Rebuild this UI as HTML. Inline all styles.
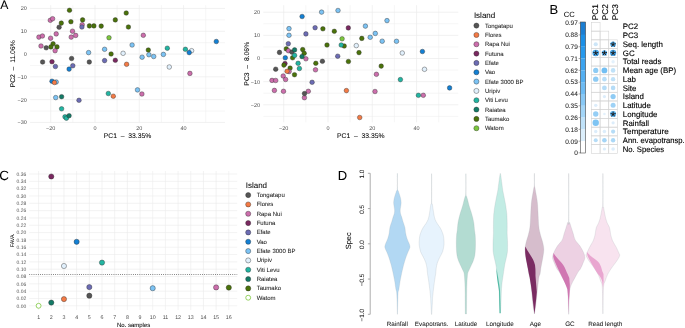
<!DOCTYPE html>
<html><head><meta charset="utf-8"><style>
html,body{margin:0;padding:0;background:#fff;}
body{width:685px;height:328px;overflow:hidden;font-family:"Liberation Sans", sans-serif;}
svg{display:block;will-change:transform;}
text{-webkit-font-smoothing:antialiased;text-rendering:geometricPrecision;}
</style></head><body>
<svg width="685" height="328" viewBox="0 0 685 328" font-family='"Liberation Sans", sans-serif'>
<rect width="685" height="328" fill="#fff"/>
<text transform="translate(0.30 8.80)" font-size="12.20" text-anchor="start" fill="#000" stroke="#000" stroke-width="0.05">A</text>
<text transform="translate(549.40 13.80)" font-size="13.00" text-anchor="start" fill="#000" stroke="#000" stroke-width="0.05">B</text>
<text transform="translate(-0.70 179.90)" font-size="13.40" text-anchor="start" fill="#000" stroke="#000" stroke-width="0.05">C</text>
<text transform="translate(337.80 179.60)" font-size="13.00" text-anchor="start" fill="#000" stroke="#000" stroke-width="0.05">D</text>
<line x1="30.10" y1="19.85" x2="225.00" y2="19.85" stroke="#efefef" stroke-width="0.55"/>
<line x1="30.10" y1="42.65" x2="225.00" y2="42.65" stroke="#efefef" stroke-width="0.55"/>
<line x1="30.10" y1="65.45" x2="225.00" y2="65.45" stroke="#efefef" stroke-width="0.55"/>
<line x1="30.10" y1="88.25" x2="225.00" y2="88.25" stroke="#efefef" stroke-width="0.55"/>
<line x1="30.10" y1="111.05" x2="225.00" y2="111.05" stroke="#efefef" stroke-width="0.55"/>
<line x1="72.86" y1="5.20" x2="72.86" y2="122.50" stroke="#efefef" stroke-width="0.55"/>
<line x1="117.14" y1="5.20" x2="117.14" y2="122.50" stroke="#efefef" stroke-width="0.55"/>
<line x1="161.42" y1="5.20" x2="161.42" y2="122.50" stroke="#efefef" stroke-width="0.55"/>
<line x1="205.70" y1="5.20" x2="205.70" y2="122.50" stroke="#efefef" stroke-width="0.55"/>
<line x1="30.10" y1="8.45" x2="225.00" y2="8.45" stroke="#ebebeb" stroke-width="0.7"/>
<line x1="30.10" y1="31.25" x2="225.00" y2="31.25" stroke="#ebebeb" stroke-width="0.7"/>
<line x1="30.10" y1="54.05" x2="225.00" y2="54.05" stroke="#ebebeb" stroke-width="0.7"/>
<line x1="30.10" y1="76.85" x2="225.00" y2="76.85" stroke="#ebebeb" stroke-width="0.7"/>
<line x1="30.10" y1="99.65" x2="225.00" y2="99.65" stroke="#ebebeb" stroke-width="0.7"/>
<line x1="30.10" y1="122.45" x2="225.00" y2="122.45" stroke="#ebebeb" stroke-width="0.7"/>
<line x1="50.72" y1="5.20" x2="50.72" y2="122.50" stroke="#ebebeb" stroke-width="0.7"/>
<line x1="95.00" y1="5.20" x2="95.00" y2="122.50" stroke="#ebebeb" stroke-width="0.7"/>
<line x1="139.28" y1="5.20" x2="139.28" y2="122.50" stroke="#ebebeb" stroke-width="0.7"/>
<line x1="183.56" y1="5.20" x2="183.56" y2="122.50" stroke="#ebebeb" stroke-width="0.7"/>
<text transform="translate(26.90 10.40)" font-size="5.50" text-anchor="end" fill="#4d4d4d">20</text>
<text transform="translate(26.90 33.20)" font-size="5.50" text-anchor="end" fill="#4d4d4d">10</text>
<text transform="translate(26.90 56.00)" font-size="5.50" text-anchor="end" fill="#4d4d4d">0</text>
<text transform="translate(26.90 78.80)" font-size="5.50" text-anchor="end" fill="#4d4d4d">&#8722;10</text>
<text transform="translate(26.90 101.60)" font-size="5.50" text-anchor="end" fill="#4d4d4d">&#8722;20</text>
<text transform="translate(26.90 124.40)" font-size="5.50" text-anchor="end" fill="#4d4d4d">&#8722;30</text>
<text transform="translate(50.72 130.20)" font-size="5.50" text-anchor="middle" fill="#4d4d4d">&#8722;20</text>
<text transform="translate(95.00 130.20)" font-size="5.50" text-anchor="middle" fill="#4d4d4d">0</text>
<text transform="translate(139.28 130.20)" font-size="5.50" text-anchor="middle" fill="#4d4d4d">20</text>
<text transform="translate(183.56 130.20)" font-size="5.50" text-anchor="middle" fill="#4d4d4d">40</text>
<text transform="translate(127.55 137.80)" font-size="6.80" text-anchor="middle" fill="#000" stroke="#000" stroke-width="0.05">PC1&#160;&#160;&#8211;&#160;&#160;33.35%</text>
<text transform="translate(15.40 63.85) rotate(-90)" font-size="6.80" text-anchor="middle" fill="#000" stroke="#000" stroke-width="0.05">PC2&#160;&#160;&#8211;&#160;&#160;11.06%</text>
<circle cx="69.50" cy="10.30" r="2.3" fill="#4a720a" stroke="#2b2b2b" stroke-width="0.4"/>
<circle cx="61.30" cy="23.10" r="2.3" fill="#4a720a" stroke="#2b2b2b" stroke-width="0.4"/>
<circle cx="70.90" cy="21.70" r="2.3" fill="#4a720a" stroke="#2b2b2b" stroke-width="0.4"/>
<circle cx="82.60" cy="19.90" r="2.3" fill="#4a720a" stroke="#2b2b2b" stroke-width="0.4"/>
<circle cx="89.40" cy="25.90" r="2.3" fill="#4a720a" stroke="#2b2b2b" stroke-width="0.4"/>
<circle cx="93.90" cy="25.90" r="2.3" fill="#4a720a" stroke="#2b2b2b" stroke-width="0.4"/>
<circle cx="101.20" cy="26.10" r="2.3" fill="#4a720a" stroke="#2b2b2b" stroke-width="0.4"/>
<circle cx="115.30" cy="19.90" r="2.3" fill="#4a720a" stroke="#2b2b2b" stroke-width="0.4"/>
<circle cx="126.20" cy="13.00" r="2.3" fill="#4a720a" stroke="#2b2b2b" stroke-width="0.4"/>
<circle cx="128.40" cy="27.00" r="2.3" fill="#4a720a" stroke="#2b2b2b" stroke-width="0.4"/>
<circle cx="53.10" cy="43.80" r="2.3" fill="#4a720a" stroke="#2b2b2b" stroke-width="0.4"/>
<circle cx="50.90" cy="46.90" r="2.3" fill="#4a720a" stroke="#2b2b2b" stroke-width="0.4"/>
<circle cx="57.00" cy="46.90" r="2.3" fill="#4a720a" stroke="#2b2b2b" stroke-width="0.4"/>
<circle cx="111.10" cy="54.00" r="2.3" fill="#4a720a" stroke="#2b2b2b" stroke-width="0.4"/>
<circle cx="148.30" cy="50.00" r="2.3" fill="#4a720a" stroke="#2b2b2b" stroke-width="0.4"/>
<circle cx="50.30" cy="20.30" r="2.3" fill="#cc6eac" stroke="#2b2b2b" stroke-width="0.4"/>
<circle cx="52.60" cy="18.70" r="2.3" fill="#cc6eac" stroke="#2b2b2b" stroke-width="0.4"/>
<circle cx="82.20" cy="24.70" r="2.3" fill="#cc6eac" stroke="#2b2b2b" stroke-width="0.4"/>
<circle cx="56.20" cy="33.90" r="2.3" fill="#cc6eac" stroke="#2b2b2b" stroke-width="0.4"/>
<circle cx="72.50" cy="31.20" r="2.3" fill="#cc6eac" stroke="#2b2b2b" stroke-width="0.4"/>
<circle cx="75.70" cy="35.40" r="2.3" fill="#cc6eac" stroke="#2b2b2b" stroke-width="0.4"/>
<circle cx="71.20" cy="37.10" r="2.3" fill="#cc6eac" stroke="#2b2b2b" stroke-width="0.4"/>
<circle cx="50.60" cy="38.20" r="2.3" fill="#cc6eac" stroke="#2b2b2b" stroke-width="0.4"/>
<circle cx="38.90" cy="37.10" r="2.3" fill="#cc6eac" stroke="#2b2b2b" stroke-width="0.4"/>
<circle cx="42.40" cy="36.00" r="2.3" fill="#cc6eac" stroke="#2b2b2b" stroke-width="0.4"/>
<circle cx="41.00" cy="46.00" r="2.3" fill="#cc6eac" stroke="#2b2b2b" stroke-width="0.4"/>
<circle cx="55.10" cy="50.70" r="2.3" fill="#cc6eac" stroke="#2b2b2b" stroke-width="0.4"/>
<circle cx="143.30" cy="35.30" r="2.3" fill="#cc6eac" stroke="#2b2b2b" stroke-width="0.4"/>
<circle cx="141.90" cy="94.00" r="2.3" fill="#cc6eac" stroke="#2b2b2b" stroke-width="0.4"/>
<circle cx="189.90" cy="73.40" r="2.3" fill="#cc6eac" stroke="#2b2b2b" stroke-width="0.4"/>
<circle cx="59.10" cy="27.20" r="2.3" fill="#555555" stroke="#2b2b2b" stroke-width="0.4"/>
<circle cx="46.20" cy="47.80" r="2.3" fill="#555555" stroke="#2b2b2b" stroke-width="0.4"/>
<circle cx="71.60" cy="58.50" r="2.3" fill="#555555" stroke="#2b2b2b" stroke-width="0.4"/>
<circle cx="42.60" cy="62.00" r="2.3" fill="#555555" stroke="#2b2b2b" stroke-width="0.4"/>
<circle cx="89.30" cy="62.00" r="2.3" fill="#555555" stroke="#2b2b2b" stroke-width="0.4"/>
<circle cx="81.90" cy="27.00" r="2.3" fill="#6c6cb4" stroke="#2b2b2b" stroke-width="0.4"/>
<circle cx="55.40" cy="66.50" r="2.3" fill="#6c6cb4" stroke="#2b2b2b" stroke-width="0.4"/>
<circle cx="72.80" cy="65.70" r="2.3" fill="#6c6cb4" stroke="#2b2b2b" stroke-width="0.4"/>
<circle cx="79.00" cy="100.30" r="2.3" fill="#6c6cb4" stroke="#2b2b2b" stroke-width="0.4"/>
<circle cx="104.60" cy="60.60" r="2.3" fill="#6c6cb4" stroke="#2b2b2b" stroke-width="0.4"/>
<circle cx="52.00" cy="61.70" r="2.3" fill="#7a2860" stroke="#2b2b2b" stroke-width="0.4"/>
<circle cx="115.30" cy="60.30" r="2.3" fill="#7a2860" stroke="#2b2b2b" stroke-width="0.4"/>
<circle cx="123.10" cy="53.30" r="2.3" fill="#e1f0fc" stroke="#2b2b2b" stroke-width="0.4"/>
<circle cx="191.60" cy="50.70" r="2.3" fill="#e1f0fc" stroke="#2b2b2b" stroke-width="0.4"/>
<circle cx="169.30" cy="67.00" r="2.3" fill="#e1f0fc" stroke="#2b2b2b" stroke-width="0.4"/>
<circle cx="69.10" cy="69.10" r="2.3" fill="#1380d4" stroke="#2b2b2b" stroke-width="0.4"/>
<circle cx="52.00" cy="81.20" r="2.3" fill="#1380d4" stroke="#2b2b2b" stroke-width="0.4"/>
<circle cx="216.30" cy="41.50" r="2.3" fill="#1380d4" stroke="#2b2b2b" stroke-width="0.4"/>
<circle cx="189.20" cy="52.60" r="2.3" fill="#1380d4" stroke="#2b2b2b" stroke-width="0.4"/>
<circle cx="88.60" cy="52.60" r="2.3" fill="#7cc3f4" stroke="#2b2b2b" stroke-width="0.4"/>
<circle cx="56.20" cy="82.00" r="2.3" fill="#7cc3f4" stroke="#2b2b2b" stroke-width="0.4"/>
<circle cx="55.70" cy="97.60" r="2.3" fill="#7cc3f4" stroke="#2b2b2b" stroke-width="0.4"/>
<circle cx="132.10" cy="45.00" r="2.3" fill="#7cc3f4" stroke="#2b2b2b" stroke-width="0.4"/>
<circle cx="104.60" cy="49.30" r="2.3" fill="#7cc3f4" stroke="#2b2b2b" stroke-width="0.4"/>
<circle cx="142.10" cy="57.20" r="2.3" fill="#7cc3f4" stroke="#2b2b2b" stroke-width="0.4"/>
<circle cx="148.90" cy="54.70" r="2.3" fill="#7cc3f4" stroke="#2b2b2b" stroke-width="0.4"/>
<circle cx="153.70" cy="56.50" r="2.3" fill="#7cc3f4" stroke="#2b2b2b" stroke-width="0.4"/>
<circle cx="163.40" cy="54.40" r="2.3" fill="#7cc3f4" stroke="#2b2b2b" stroke-width="0.4"/>
<circle cx="137.50" cy="89.90" r="2.3" fill="#7cc3f4" stroke="#2b2b2b" stroke-width="0.4"/>
<circle cx="54.40" cy="82.50" r="2.3" fill="#f37a45" stroke="#2b2b2b" stroke-width="0.4"/>
<circle cx="126.60" cy="64.30" r="2.3" fill="#f37a45" stroke="#2b2b2b" stroke-width="0.4"/>
<circle cx="113.30" cy="96.20" r="2.3" fill="#f37a45" stroke="#2b2b2b" stroke-width="0.4"/>
<circle cx="61.60" cy="108.80" r="2.3" fill="#22b5a2" stroke="#2b2b2b" stroke-width="0.4"/>
<circle cx="65.00" cy="116.80" r="2.3" fill="#22b5a2" stroke="#2b2b2b" stroke-width="0.4"/>
<circle cx="66.40" cy="118.20" r="2.3" fill="#22b5a2" stroke="#2b2b2b" stroke-width="0.4"/>
<circle cx="108.30" cy="93.50" r="2.3" fill="#22b5a2" stroke="#2b2b2b" stroke-width="0.4"/>
<circle cx="167.30" cy="48.20" r="2.3" fill="#22b5a2" stroke="#2b2b2b" stroke-width="0.4"/>
<circle cx="185.40" cy="49.30" r="2.3" fill="#22b5a2" stroke="#2b2b2b" stroke-width="0.4"/>
<circle cx="61.60" cy="96.70" r="2.3" fill="#137a66" stroke="#2b2b2b" stroke-width="0.4"/>
<circle cx="69.10" cy="115.70" r="2.3" fill="#137a66" stroke="#2b2b2b" stroke-width="0.4"/>
<circle cx="109.00" cy="37.70" r="2.3" fill="#7cc63e" stroke="#2b2b2b" stroke-width="0.4"/>
<line x1="263.30" y1="23.77" x2="458.30" y2="23.77" stroke="#efefef" stroke-width="0.55"/>
<line x1="263.30" y1="46.92" x2="458.30" y2="46.92" stroke="#efefef" stroke-width="0.55"/>
<line x1="263.30" y1="70.08" x2="458.30" y2="70.08" stroke="#efefef" stroke-width="0.55"/>
<line x1="263.30" y1="93.23" x2="458.30" y2="93.23" stroke="#efefef" stroke-width="0.55"/>
<line x1="263.30" y1="116.39" x2="458.30" y2="116.39" stroke="#efefef" stroke-width="0.55"/>
<line x1="305.86" y1="5.20" x2="305.86" y2="122.30" stroke="#efefef" stroke-width="0.55"/>
<line x1="350.14" y1="5.20" x2="350.14" y2="122.30" stroke="#efefef" stroke-width="0.55"/>
<line x1="394.42" y1="5.20" x2="394.42" y2="122.30" stroke="#efefef" stroke-width="0.55"/>
<line x1="438.70" y1="5.20" x2="438.70" y2="122.30" stroke="#efefef" stroke-width="0.55"/>
<line x1="263.30" y1="12.19" x2="458.30" y2="12.19" stroke="#ebebeb" stroke-width="0.7"/>
<line x1="263.30" y1="35.34" x2="458.30" y2="35.34" stroke="#ebebeb" stroke-width="0.7"/>
<line x1="263.30" y1="58.50" x2="458.30" y2="58.50" stroke="#ebebeb" stroke-width="0.7"/>
<line x1="263.30" y1="81.66" x2="458.30" y2="81.66" stroke="#ebebeb" stroke-width="0.7"/>
<line x1="263.30" y1="104.81" x2="458.30" y2="104.81" stroke="#ebebeb" stroke-width="0.7"/>
<line x1="283.72" y1="5.20" x2="283.72" y2="122.30" stroke="#ebebeb" stroke-width="0.7"/>
<line x1="328.00" y1="5.20" x2="328.00" y2="122.30" stroke="#ebebeb" stroke-width="0.7"/>
<line x1="372.28" y1="5.20" x2="372.28" y2="122.30" stroke="#ebebeb" stroke-width="0.7"/>
<line x1="416.56" y1="5.20" x2="416.56" y2="122.30" stroke="#ebebeb" stroke-width="0.7"/>
<text transform="translate(260.10 14.14)" font-size="5.50" text-anchor="end" fill="#4d4d4d">20</text>
<text transform="translate(260.10 37.29)" font-size="5.50" text-anchor="end" fill="#4d4d4d">10</text>
<text transform="translate(260.10 60.45)" font-size="5.50" text-anchor="end" fill="#4d4d4d">0</text>
<text transform="translate(260.10 83.61)" font-size="5.50" text-anchor="end" fill="#4d4d4d">&#8722;10</text>
<text transform="translate(260.10 106.76)" font-size="5.50" text-anchor="end" fill="#4d4d4d">&#8722;20</text>
<text transform="translate(283.72 130.20)" font-size="5.50" text-anchor="middle" fill="#4d4d4d">&#8722;20</text>
<text transform="translate(328.00 130.20)" font-size="5.50" text-anchor="middle" fill="#4d4d4d">0</text>
<text transform="translate(372.28 130.20)" font-size="5.50" text-anchor="middle" fill="#4d4d4d">20</text>
<text transform="translate(416.56 130.20)" font-size="5.50" text-anchor="middle" fill="#4d4d4d">40</text>
<text transform="translate(360.80 137.80)" font-size="6.80" text-anchor="middle" fill="#000" stroke="#000" stroke-width="0.05">PC1&#160;&#160;&#8211;&#160;&#160;33.35%</text>
<text transform="translate(248.50 63.75) rotate(-90)" font-size="6.80" text-anchor="middle" fill="#000" stroke="#000" stroke-width="0.05">PC3&#160;&#160;&#8211;&#160;&#160;8.06%</text>
<circle cx="285.00" cy="63.60" r="2.3" fill="#7a2860" stroke="#2b2b2b" stroke-width="0.4"/>
<circle cx="348.30" cy="27.90" r="2.3" fill="#7a2860" stroke="#2b2b2b" stroke-width="0.4"/>
<circle cx="286.30" cy="48.90" r="2.3" fill="#4a720a" stroke="#2b2b2b" stroke-width="0.4"/>
<circle cx="292.60" cy="57.80" r="2.3" fill="#4a720a" stroke="#2b2b2b" stroke-width="0.4"/>
<circle cx="302.70" cy="49.60" r="2.3" fill="#4a720a" stroke="#2b2b2b" stroke-width="0.4"/>
<circle cx="304.20" cy="53.30" r="2.3" fill="#4a720a" stroke="#2b2b2b" stroke-width="0.4"/>
<circle cx="283.90" cy="65.10" r="2.3" fill="#4a720a" stroke="#2b2b2b" stroke-width="0.4"/>
<circle cx="290.10" cy="68.10" r="2.3" fill="#4a720a" stroke="#2b2b2b" stroke-width="0.4"/>
<circle cx="294.50" cy="74.70" r="2.3" fill="#4a720a" stroke="#2b2b2b" stroke-width="0.4"/>
<circle cx="322.90" cy="28.80" r="2.3" fill="#4a720a" stroke="#2b2b2b" stroke-width="0.4"/>
<circle cx="334.30" cy="31.30" r="2.3" fill="#4a720a" stroke="#2b2b2b" stroke-width="0.4"/>
<circle cx="361.80" cy="38.40" r="2.3" fill="#4a720a" stroke="#2b2b2b" stroke-width="0.4"/>
<circle cx="327.00" cy="45.00" r="2.3" fill="#4a720a" stroke="#2b2b2b" stroke-width="0.4"/>
<circle cx="344.20" cy="46.00" r="2.3" fill="#4a720a" stroke="#2b2b2b" stroke-width="0.4"/>
<circle cx="359.00" cy="52.60" r="2.3" fill="#4a720a" stroke="#2b2b2b" stroke-width="0.4"/>
<circle cx="315.80" cy="63.30" r="2.3" fill="#4a720a" stroke="#2b2b2b" stroke-width="0.4"/>
<circle cx="348.40" cy="61.50" r="2.3" fill="#4a720a" stroke="#2b2b2b" stroke-width="0.4"/>
<circle cx="381.20" cy="66.10" r="2.3" fill="#4a720a" stroke="#2b2b2b" stroke-width="0.4"/>
<circle cx="288.40" cy="50.70" r="2.3" fill="#cc6eac" stroke="#2b2b2b" stroke-width="0.4"/>
<circle cx="305.90" cy="58.80" r="2.3" fill="#cc6eac" stroke="#2b2b2b" stroke-width="0.4"/>
<circle cx="289.10" cy="71.60" r="2.3" fill="#cc6eac" stroke="#2b2b2b" stroke-width="0.4"/>
<circle cx="283.20" cy="76.00" r="2.3" fill="#cc6eac" stroke="#2b2b2b" stroke-width="0.4"/>
<circle cx="285.60" cy="79.50" r="2.3" fill="#cc6eac" stroke="#2b2b2b" stroke-width="0.4"/>
<circle cx="272.00" cy="80.40" r="2.3" fill="#cc6eac" stroke="#2b2b2b" stroke-width="0.4"/>
<circle cx="275.70" cy="80.50" r="2.3" fill="#cc6eac" stroke="#2b2b2b" stroke-width="0.4"/>
<circle cx="274.40" cy="90.40" r="2.3" fill="#cc6eac" stroke="#2b2b2b" stroke-width="0.4"/>
<circle cx="283.50" cy="91.30" r="2.3" fill="#cc6eac" stroke="#2b2b2b" stroke-width="0.4"/>
<circle cx="308.30" cy="91.30" r="2.3" fill="#cc6eac" stroke="#2b2b2b" stroke-width="0.4"/>
<circle cx="304.40" cy="97.70" r="2.3" fill="#cc6eac" stroke="#2b2b2b" stroke-width="0.4"/>
<circle cx="315.50" cy="69.80" r="2.3" fill="#cc6eac" stroke="#2b2b2b" stroke-width="0.4"/>
<circle cx="376.40" cy="74.30" r="2.3" fill="#cc6eac" stroke="#2b2b2b" stroke-width="0.4"/>
<circle cx="375.00" cy="91.50" r="2.3" fill="#cc6eac" stroke="#2b2b2b" stroke-width="0.4"/>
<circle cx="423.30" cy="95.30" r="2.3" fill="#cc6eac" stroke="#2b2b2b" stroke-width="0.4"/>
<circle cx="279.50" cy="52.40" r="2.3" fill="#555555" stroke="#2b2b2b" stroke-width="0.4"/>
<circle cx="291.90" cy="52.10" r="2.3" fill="#555555" stroke="#2b2b2b" stroke-width="0.4"/>
<circle cx="275.70" cy="69.20" r="2.3" fill="#555555" stroke="#2b2b2b" stroke-width="0.4"/>
<circle cx="322.40" cy="61.30" r="2.3" fill="#555555" stroke="#2b2b2b" stroke-width="0.4"/>
<circle cx="304.50" cy="93.60" r="2.3" fill="#555555" stroke="#2b2b2b" stroke-width="0.4"/>
<circle cx="288.30" cy="43.70" r="2.3" fill="#6c6cb4" stroke="#2b2b2b" stroke-width="0.4"/>
<circle cx="305.90" cy="33.90" r="2.3" fill="#6c6cb4" stroke="#2b2b2b" stroke-width="0.4"/>
<circle cx="315.10" cy="27.70" r="2.3" fill="#6c6cb4" stroke="#2b2b2b" stroke-width="0.4"/>
<circle cx="337.70" cy="56.20" r="2.3" fill="#6c6cb4" stroke="#2b2b2b" stroke-width="0.4"/>
<circle cx="312.10" cy="82.30" r="2.3" fill="#6c6cb4" stroke="#2b2b2b" stroke-width="0.4"/>
<circle cx="285.30" cy="57.80" r="2.3" fill="#1380d4" stroke="#2b2b2b" stroke-width="0.4"/>
<circle cx="302.10" cy="16.50" r="2.3" fill="#1380d4" stroke="#2b2b2b" stroke-width="0.4"/>
<circle cx="422.40" cy="51.50" r="2.3" fill="#1380d4" stroke="#2b2b2b" stroke-width="0.4"/>
<circle cx="449.60" cy="87.90" r="2.3" fill="#1380d4" stroke="#2b2b2b" stroke-width="0.4"/>
<circle cx="287.10" cy="71.30" r="2.3" fill="#f37a45" stroke="#2b2b2b" stroke-width="0.4"/>
<circle cx="346.40" cy="90.60" r="2.3" fill="#f37a45" stroke="#2b2b2b" stroke-width="0.4"/>
<circle cx="359.70" cy="117.50" r="2.3" fill="#f37a45" stroke="#2b2b2b" stroke-width="0.4"/>
<circle cx="289.00" cy="28.60" r="2.3" fill="#7cc3f4" stroke="#2b2b2b" stroke-width="0.4"/>
<circle cx="289.00" cy="35.30" r="2.3" fill="#7cc3f4" stroke="#2b2b2b" stroke-width="0.4"/>
<circle cx="321.60" cy="12.10" r="2.3" fill="#7cc3f4" stroke="#2b2b2b" stroke-width="0.4"/>
<circle cx="338.00" cy="10.50" r="2.3" fill="#7cc3f4" stroke="#2b2b2b" stroke-width="0.4"/>
<circle cx="365.40" cy="26.10" r="2.3" fill="#7cc3f4" stroke="#2b2b2b" stroke-width="0.4"/>
<circle cx="370.20" cy="37.30" r="2.3" fill="#7cc3f4" stroke="#2b2b2b" stroke-width="0.4"/>
<circle cx="387.00" cy="20.60" r="2.3" fill="#7cc3f4" stroke="#2b2b2b" stroke-width="0.4"/>
<circle cx="375.30" cy="33.40" r="2.3" fill="#7cc3f4" stroke="#2b2b2b" stroke-width="0.4"/>
<circle cx="382.20" cy="41.20" r="2.3" fill="#7cc3f4" stroke="#2b2b2b" stroke-width="0.4"/>
<circle cx="396.50" cy="41.30" r="2.3" fill="#7cc3f4" stroke="#2b2b2b" stroke-width="0.4"/>
<circle cx="356.30" cy="45.60" r="2.3" fill="#e1f0fc" stroke="#2b2b2b" stroke-width="0.4"/>
<circle cx="402.30" cy="53.00" r="2.3" fill="#e1f0fc" stroke="#2b2b2b" stroke-width="0.4"/>
<circle cx="424.50" cy="69.30" r="2.3" fill="#e1f0fc" stroke="#2b2b2b" stroke-width="0.4"/>
<circle cx="294.60" cy="55.40" r="2.3" fill="#22b5a2" stroke="#2b2b2b" stroke-width="0.4"/>
<circle cx="298.10" cy="63.30" r="2.3" fill="#22b5a2" stroke="#2b2b2b" stroke-width="0.4"/>
<circle cx="299.40" cy="68.50" r="2.3" fill="#22b5a2" stroke="#2b2b2b" stroke-width="0.4"/>
<circle cx="341.20" cy="45.00" r="2.3" fill="#22b5a2" stroke="#2b2b2b" stroke-width="0.4"/>
<circle cx="400.40" cy="79.60" r="2.3" fill="#22b5a2" stroke="#2b2b2b" stroke-width="0.4"/>
<circle cx="418.40" cy="95.30" r="2.3" fill="#22b5a2" stroke="#2b2b2b" stroke-width="0.4"/>
<circle cx="294.60" cy="49.90" r="2.3" fill="#137a66" stroke="#2b2b2b" stroke-width="0.4"/>
<circle cx="302.00" cy="56.60" r="2.3" fill="#137a66" stroke="#2b2b2b" stroke-width="0.4"/>
<circle cx="342.10" cy="38.80" r="2.3" fill="#7cc63e" stroke="#2b2b2b" stroke-width="0.4"/>
<text transform="translate(473.90 18.30)" font-size="8.00" text-anchor="start" fill="#000" stroke="#000" stroke-width="0.05">Island</text>
<circle cx="476.40" cy="25.60" r="2.55" fill="#555555" stroke="#2b2b2b" stroke-width="0.4"/>
<text transform="translate(484.90 27.60)" font-size="6.00" text-anchor="start" fill="#1a1a1a" stroke="#1a1a1a" stroke-width="0.05">Tongatapu</text>
<circle cx="476.40" cy="34.93" r="2.55" fill="#f37a45" stroke="#2b2b2b" stroke-width="0.4"/>
<text transform="translate(484.90 36.93)" font-size="6.00" text-anchor="start" fill="#1a1a1a" stroke="#1a1a1a" stroke-width="0.05">Flores</text>
<circle cx="476.40" cy="44.26" r="2.55" fill="#cc6eac" stroke="#2b2b2b" stroke-width="0.4"/>
<text transform="translate(484.90 46.26)" font-size="6.00" text-anchor="start" fill="#1a1a1a" stroke="#1a1a1a" stroke-width="0.05">Rapa Nui</text>
<circle cx="476.40" cy="53.59" r="2.55" fill="#7a2860" stroke="#2b2b2b" stroke-width="0.4"/>
<text transform="translate(484.90 55.59)" font-size="6.00" text-anchor="start" fill="#1a1a1a" stroke="#1a1a1a" stroke-width="0.05">Futuna</text>
<circle cx="476.40" cy="62.92" r="2.55" fill="#6c6cb4" stroke="#2b2b2b" stroke-width="0.4"/>
<text transform="translate(484.90 64.92)" font-size="6.00" text-anchor="start" fill="#1a1a1a" stroke="#1a1a1a" stroke-width="0.05">Efate</text>
<circle cx="476.40" cy="72.25" r="2.55" fill="#1380d4" stroke="#2b2b2b" stroke-width="0.4"/>
<text transform="translate(484.90 74.25)" font-size="6.00" text-anchor="start" fill="#1a1a1a" stroke="#1a1a1a" stroke-width="0.05">Vao</text>
<circle cx="476.40" cy="81.58" r="2.55" fill="#7cc3f4" stroke="#2b2b2b" stroke-width="0.4"/>
<text transform="translate(484.90 83.58)" font-size="6.00" text-anchor="start" fill="#1a1a1a" stroke="#1a1a1a" stroke-width="0.05">Efate 3000 BP</text>
<circle cx="476.40" cy="90.91" r="2.55" fill="#e1f0fc" stroke="#2b2b2b" stroke-width="0.4"/>
<text transform="translate(484.90 92.91)" font-size="6.00" text-anchor="start" fill="#1a1a1a" stroke="#1a1a1a" stroke-width="0.05">Uripiv</text>
<circle cx="476.40" cy="100.24" r="2.55" fill="#22b5a2" stroke="#2b2b2b" stroke-width="0.4"/>
<text transform="translate(484.90 102.24)" font-size="6.00" text-anchor="start" fill="#1a1a1a" stroke="#1a1a1a" stroke-width="0.05">Viti Levu</text>
<circle cx="476.40" cy="109.57" r="2.55" fill="#137a66" stroke="#2b2b2b" stroke-width="0.4"/>
<text transform="translate(484.90 111.57)" font-size="6.00" text-anchor="start" fill="#1a1a1a" stroke="#1a1a1a" stroke-width="0.05">Raiatea</text>
<circle cx="476.40" cy="118.90" r="2.55" fill="#4a720a" stroke="#2b2b2b" stroke-width="0.4"/>
<text transform="translate(484.90 120.90)" font-size="6.00" text-anchor="start" fill="#1a1a1a" stroke="#1a1a1a" stroke-width="0.05">Taumako</text>
<circle cx="476.40" cy="128.23" r="2.55" fill="#7cc63e" stroke="#2b2b2b" stroke-width="0.4"/>
<text transform="translate(484.90 130.23)" font-size="6.00" text-anchor="start" fill="#1a1a1a" stroke="#1a1a1a" stroke-width="0.05">Watom</text>
<text transform="translate(245.70 188.00)" font-size="8.00" text-anchor="start" fill="#000" stroke="#000" stroke-width="0.05">Island</text>
<circle cx="248.20" cy="195.10" r="2.55" fill="#555555" stroke="#2b2b2b" stroke-width="0.4"/>
<text transform="translate(256.70 197.10)" font-size="6.00" text-anchor="start" fill="#1a1a1a" stroke="#1a1a1a" stroke-width="0.05">Tongatapu</text>
<circle cx="248.20" cy="204.43" r="2.55" fill="#f37a45" stroke="#2b2b2b" stroke-width="0.4"/>
<text transform="translate(256.70 206.43)" font-size="6.00" text-anchor="start" fill="#1a1a1a" stroke="#1a1a1a" stroke-width="0.05">Flores</text>
<circle cx="248.20" cy="213.76" r="2.55" fill="#cc6eac" stroke="#2b2b2b" stroke-width="0.4"/>
<text transform="translate(256.70 215.76)" font-size="6.00" text-anchor="start" fill="#1a1a1a" stroke="#1a1a1a" stroke-width="0.05">Rapa Nui</text>
<circle cx="248.20" cy="223.09" r="2.55" fill="#7a2860" stroke="#2b2b2b" stroke-width="0.4"/>
<text transform="translate(256.70 225.09)" font-size="6.00" text-anchor="start" fill="#1a1a1a" stroke="#1a1a1a" stroke-width="0.05">Futuna</text>
<circle cx="248.20" cy="232.42" r="2.55" fill="#6c6cb4" stroke="#2b2b2b" stroke-width="0.4"/>
<text transform="translate(256.70 234.42)" font-size="6.00" text-anchor="start" fill="#1a1a1a" stroke="#1a1a1a" stroke-width="0.05">Efate</text>
<circle cx="248.20" cy="241.75" r="2.55" fill="#1380d4" stroke="#2b2b2b" stroke-width="0.4"/>
<text transform="translate(256.70 243.75)" font-size="6.00" text-anchor="start" fill="#1a1a1a" stroke="#1a1a1a" stroke-width="0.05">Vao</text>
<circle cx="248.20" cy="251.08" r="2.55" fill="#7cc3f4" stroke="#2b2b2b" stroke-width="0.4"/>
<text transform="translate(256.70 253.08)" font-size="6.00" text-anchor="start" fill="#1a1a1a" stroke="#1a1a1a" stroke-width="0.05">Efate 3000 BP</text>
<circle cx="248.20" cy="260.41" r="2.55" fill="#e1f0fc" stroke="#2b2b2b" stroke-width="0.4"/>
<text transform="translate(256.70 262.41)" font-size="6.00" text-anchor="start" fill="#1a1a1a" stroke="#1a1a1a" stroke-width="0.05">Uripiv</text>
<circle cx="248.20" cy="269.74" r="2.55" fill="#22b5a2" stroke="#2b2b2b" stroke-width="0.4"/>
<text transform="translate(256.70 271.74)" font-size="6.00" text-anchor="start" fill="#1a1a1a" stroke="#1a1a1a" stroke-width="0.05">Viti Levu</text>
<circle cx="248.20" cy="279.07" r="2.55" fill="#137a66" stroke="#2b2b2b" stroke-width="0.4"/>
<text transform="translate(256.70 281.07)" font-size="6.00" text-anchor="start" fill="#1a1a1a" stroke="#1a1a1a" stroke-width="0.05">Raiatea</text>
<circle cx="248.20" cy="288.40" r="2.55" fill="#4a720a" stroke="#2b2b2b" stroke-width="0.4"/>
<text transform="translate(256.70 290.40)" font-size="6.00" text-anchor="start" fill="#1a1a1a" stroke="#1a1a1a" stroke-width="0.05">Taumako</text>
<circle cx="248.20" cy="297.73" r="2.45" fill="#ffffff" stroke="#7cc63e" stroke-width="0.8"/>
<text transform="translate(256.70 299.73)" font-size="6.00" text-anchor="start" fill="#1a1a1a" stroke="#1a1a1a" stroke-width="0.05">Watom</text>
<text transform="translate(563.70 16.50)" font-size="7.60" text-anchor="start" fill="#000" stroke="#000" stroke-width="0.05">CC</text>
<rect x="580.3" y="22.00" width="5.30" height="12.96" fill="#1b7ed2"/>
<rect x="580.3" y="34.91" width="5.30" height="11.86" fill="#1b8fe6"/>
<rect x="580.3" y="46.72" width="5.30" height="11.86" fill="#2799ec"/>
<rect x="580.3" y="58.53" width="5.30" height="11.86" fill="#3ba3ef"/>
<rect x="580.3" y="70.34" width="5.30" height="11.86" fill="#54aff1"/>
<rect x="580.3" y="82.15" width="5.30" height="11.86" fill="#6dbbf3"/>
<rect x="580.3" y="93.96" width="5.30" height="11.86" fill="#88c8f5"/>
<rect x="580.3" y="105.77" width="5.30" height="11.86" fill="#a3d5f7"/>
<rect x="580.3" y="117.58" width="5.30" height="11.86" fill="#c0e2f9"/>
<rect x="580.3" y="129.39" width="5.30" height="11.86" fill="#dbeefb"/>
<rect x="580.3" y="141.20" width="5.30" height="11.85" fill="#ffffff"/>
<rect x="580.3" y="22.0" width="5.30" height="131.0" fill="none" stroke="#4a4a4a" stroke-width="0.6"/>
<line x1="578.60" y1="23.10" x2="580.30" y2="23.10" stroke="#555" stroke-width="0.5"/>
<text transform="translate(577.80 25.40)" font-size="6.50" text-anchor="end" fill="#1a1a1a" stroke="#1a1a1a" stroke-width="0.05">0.97</text>
<line x1="578.60" y1="34.91" x2="580.30" y2="34.91" stroke="#555" stroke-width="0.5"/>
<text transform="translate(577.80 37.21)" font-size="6.50" text-anchor="end" fill="#1a1a1a" stroke="#1a1a1a" stroke-width="0.05">0.88</text>
<line x1="578.60" y1="46.72" x2="580.30" y2="46.72" stroke="#555" stroke-width="0.5"/>
<text transform="translate(577.80 49.02)" font-size="6.50" text-anchor="end" fill="#1a1a1a" stroke="#1a1a1a" stroke-width="0.05">0.79</text>
<line x1="578.60" y1="58.53" x2="580.30" y2="58.53" stroke="#555" stroke-width="0.5"/>
<text transform="translate(577.80 60.83)" font-size="6.50" text-anchor="end" fill="#1a1a1a" stroke="#1a1a1a" stroke-width="0.05">0.71</text>
<line x1="578.60" y1="70.34" x2="580.30" y2="70.34" stroke="#555" stroke-width="0.5"/>
<text transform="translate(577.80 72.64)" font-size="6.50" text-anchor="end" fill="#1a1a1a" stroke="#1a1a1a" stroke-width="0.05">0.62</text>
<line x1="578.60" y1="82.15" x2="580.30" y2="82.15" stroke="#555" stroke-width="0.5"/>
<text transform="translate(577.80 84.45)" font-size="6.50" text-anchor="end" fill="#1a1a1a" stroke="#1a1a1a" stroke-width="0.05">0.53</text>
<line x1="578.60" y1="93.96" x2="580.30" y2="93.96" stroke="#555" stroke-width="0.5"/>
<text transform="translate(577.80 96.26)" font-size="6.50" text-anchor="end" fill="#1a1a1a" stroke="#1a1a1a" stroke-width="0.05">0.44</text>
<line x1="578.60" y1="105.77" x2="580.30" y2="105.77" stroke="#555" stroke-width="0.5"/>
<text transform="translate(577.80 108.07)" font-size="6.50" text-anchor="end" fill="#1a1a1a" stroke="#1a1a1a" stroke-width="0.05">0.35</text>
<line x1="578.60" y1="117.58" x2="580.30" y2="117.58" stroke="#555" stroke-width="0.5"/>
<text transform="translate(577.80 119.88)" font-size="6.50" text-anchor="end" fill="#1a1a1a" stroke="#1a1a1a" stroke-width="0.05">0.26</text>
<line x1="578.60" y1="129.39" x2="580.30" y2="129.39" stroke="#555" stroke-width="0.5"/>
<text transform="translate(577.80 131.69)" font-size="6.50" text-anchor="end" fill="#1a1a1a" stroke="#1a1a1a" stroke-width="0.05">0.18</text>
<line x1="578.60" y1="141.20" x2="580.30" y2="141.20" stroke="#555" stroke-width="0.5"/>
<text transform="translate(577.80 143.50)" font-size="6.50" text-anchor="end" fill="#1a1a1a" stroke="#1a1a1a" stroke-width="0.05">0.09</text>
<line x1="578.60" y1="152.80" x2="580.30" y2="152.80" stroke="#555" stroke-width="0.5"/>
<text transform="translate(577.80 155.10)" font-size="6.50" text-anchor="end" fill="#1a1a1a" stroke="#1a1a1a" stroke-width="0.05">0</text>
<rect x="591.40" y="22.40" width="8.68" height="8.73" fill="none" stroke="#d4d4d4" stroke-width="0.6"/>
<rect x="591.40" y="31.13" width="8.68" height="8.73" fill="none" stroke="#d4d4d4" stroke-width="0.6"/>
<rect x="600.08" y="31.13" width="8.68" height="8.73" fill="none" stroke="#d4d4d4" stroke-width="0.6"/>
<rect x="591.40" y="39.86" width="8.68" height="8.73" fill="none" stroke="#d4d4d4" stroke-width="0.6"/>
<rect x="600.08" y="39.86" width="8.68" height="8.73" fill="none" stroke="#d4d4d4" stroke-width="0.6"/>
<rect x="608.76" y="39.86" width="8.68" height="8.73" fill="none" stroke="#d4d4d4" stroke-width="0.6"/>
<rect x="591.40" y="48.59" width="8.68" height="8.73" fill="none" stroke="#d4d4d4" stroke-width="0.6"/>
<rect x="600.08" y="48.59" width="8.68" height="8.73" fill="none" stroke="#d4d4d4" stroke-width="0.6"/>
<rect x="608.76" y="48.59" width="8.68" height="8.73" fill="none" stroke="#d4d4d4" stroke-width="0.6"/>
<rect x="591.40" y="57.32" width="8.68" height="8.73" fill="none" stroke="#d4d4d4" stroke-width="0.6"/>
<rect x="600.08" y="57.32" width="8.68" height="8.73" fill="none" stroke="#d4d4d4" stroke-width="0.6"/>
<rect x="608.76" y="57.32" width="8.68" height="8.73" fill="none" stroke="#d4d4d4" stroke-width="0.6"/>
<rect x="591.40" y="66.05" width="8.68" height="8.73" fill="none" stroke="#d4d4d4" stroke-width="0.6"/>
<rect x="600.08" y="66.05" width="8.68" height="8.73" fill="none" stroke="#d4d4d4" stroke-width="0.6"/>
<rect x="608.76" y="66.05" width="8.68" height="8.73" fill="none" stroke="#d4d4d4" stroke-width="0.6"/>
<rect x="591.40" y="74.78" width="8.68" height="8.73" fill="none" stroke="#d4d4d4" stroke-width="0.6"/>
<rect x="600.08" y="74.78" width="8.68" height="8.73" fill="none" stroke="#d4d4d4" stroke-width="0.6"/>
<rect x="608.76" y="74.78" width="8.68" height="8.73" fill="none" stroke="#d4d4d4" stroke-width="0.6"/>
<rect x="591.40" y="83.51" width="8.68" height="8.73" fill="none" stroke="#d4d4d4" stroke-width="0.6"/>
<rect x="600.08" y="83.51" width="8.68" height="8.73" fill="none" stroke="#d4d4d4" stroke-width="0.6"/>
<rect x="608.76" y="83.51" width="8.68" height="8.73" fill="none" stroke="#d4d4d4" stroke-width="0.6"/>
<rect x="591.40" y="92.24" width="8.68" height="8.73" fill="none" stroke="#d4d4d4" stroke-width="0.6"/>
<rect x="600.08" y="92.24" width="8.68" height="8.73" fill="none" stroke="#d4d4d4" stroke-width="0.6"/>
<rect x="608.76" y="92.24" width="8.68" height="8.73" fill="none" stroke="#d4d4d4" stroke-width="0.6"/>
<rect x="591.40" y="100.97" width="8.68" height="8.73" fill="none" stroke="#d4d4d4" stroke-width="0.6"/>
<rect x="600.08" y="100.97" width="8.68" height="8.73" fill="none" stroke="#d4d4d4" stroke-width="0.6"/>
<rect x="608.76" y="100.97" width="8.68" height="8.73" fill="none" stroke="#d4d4d4" stroke-width="0.6"/>
<rect x="591.40" y="109.70" width="8.68" height="8.73" fill="none" stroke="#d4d4d4" stroke-width="0.6"/>
<rect x="600.08" y="109.70" width="8.68" height="8.73" fill="none" stroke="#d4d4d4" stroke-width="0.6"/>
<rect x="608.76" y="109.70" width="8.68" height="8.73" fill="none" stroke="#d4d4d4" stroke-width="0.6"/>
<rect x="591.40" y="118.43" width="8.68" height="8.73" fill="none" stroke="#d4d4d4" stroke-width="0.6"/>
<rect x="600.08" y="118.43" width="8.68" height="8.73" fill="none" stroke="#d4d4d4" stroke-width="0.6"/>
<rect x="608.76" y="118.43" width="8.68" height="8.73" fill="none" stroke="#d4d4d4" stroke-width="0.6"/>
<rect x="591.40" y="127.16" width="8.68" height="8.73" fill="none" stroke="#d4d4d4" stroke-width="0.6"/>
<rect x="600.08" y="127.16" width="8.68" height="8.73" fill="none" stroke="#d4d4d4" stroke-width="0.6"/>
<rect x="608.76" y="127.16" width="8.68" height="8.73" fill="none" stroke="#d4d4d4" stroke-width="0.6"/>
<rect x="591.40" y="135.89" width="8.68" height="8.73" fill="none" stroke="#d4d4d4" stroke-width="0.6"/>
<rect x="600.08" y="135.89" width="8.68" height="8.73" fill="none" stroke="#d4d4d4" stroke-width="0.6"/>
<rect x="608.76" y="135.89" width="8.68" height="8.73" fill="none" stroke="#d4d4d4" stroke-width="0.6"/>
<rect x="591.40" y="144.62" width="8.68" height="8.73" fill="none" stroke="#d4d4d4" stroke-width="0.6"/>
<rect x="600.08" y="144.62" width="8.68" height="8.73" fill="none" stroke="#d4d4d4" stroke-width="0.6"/>
<rect x="608.76" y="144.62" width="8.68" height="8.73" fill="none" stroke="#d4d4d4" stroke-width="0.6"/>
<text transform="translate(622.80 29.20)" font-size="7.90" text-anchor="start" fill="#000" stroke="#000" stroke-width="0.13">PC2</text>
<text transform="translate(622.80 37.97)" font-size="7.90" text-anchor="start" fill="#000" stroke="#000" stroke-width="0.13">PC3</text>
<text transform="translate(622.80 46.74)" font-size="7.90" text-anchor="start" fill="#000" stroke="#000" stroke-width="0.13" textLength="40.1" lengthAdjust="spacingAndGlyphs">Seq. length</text>
<text transform="translate(622.80 55.51)" font-size="7.90" text-anchor="start" fill="#000" stroke="#000" stroke-width="0.13">GC</text>
<text transform="translate(622.80 64.28)" font-size="7.90" text-anchor="start" fill="#000" stroke="#000" stroke-width="0.13">Total reads</text>
<text transform="translate(622.80 73.05)" font-size="7.90" text-anchor="start" fill="#000" stroke="#000" stroke-width="0.13" textLength="53.3" lengthAdjust="spacingAndGlyphs">Mean age (BP)</text>
<text transform="translate(622.80 81.82)" font-size="7.90" text-anchor="start" fill="#000" stroke="#000" stroke-width="0.13">Lab</text>
<text transform="translate(622.80 90.59)" font-size="7.90" text-anchor="start" fill="#000" stroke="#000" stroke-width="0.13">Site</text>
<text transform="translate(622.80 99.36)" font-size="7.90" text-anchor="start" fill="#000" stroke="#000" stroke-width="0.13">Island</text>
<text transform="translate(622.80 108.13)" font-size="7.90" text-anchor="start" fill="#000" stroke="#000" stroke-width="0.13">Latitude</text>
<text transform="translate(622.80 116.90)" font-size="7.90" text-anchor="start" fill="#000" stroke="#000" stroke-width="0.13">Longitude</text>
<text transform="translate(622.80 125.67)" font-size="7.90" text-anchor="start" fill="#000" stroke="#000" stroke-width="0.13" textLength="26.1" lengthAdjust="spacingAndGlyphs">Rainfall</text>
<text transform="translate(622.80 134.44)" font-size="7.90" text-anchor="start" fill="#000" stroke="#000" stroke-width="0.13" textLength="45.9" lengthAdjust="spacingAndGlyphs">Temperature</text>
<text transform="translate(622.80 143.21)" font-size="7.90" text-anchor="start" fill="#000" stroke="#000" stroke-width="0.13" textLength="61.9" lengthAdjust="spacingAndGlyphs">Ann. evapotransp.</text>
<text transform="translate(622.80 151.98)" font-size="7.90" text-anchor="start" fill="#000" stroke="#000" stroke-width="0.13" textLength="41.3" lengthAdjust="spacingAndGlyphs">No. Species</text>
<text transform="translate(597.90 20.20) rotate(-90)" font-size="8.30" text-anchor="start" fill="#000" stroke="#000" stroke-width="0.13">PC1</text>
<text transform="translate(608.10 20.20) rotate(-90)" font-size="8.30" text-anchor="start" fill="#000" stroke="#000" stroke-width="0.13">PC2</text>
<text transform="translate(617.80 20.20) rotate(-90)" font-size="8.30" text-anchor="start" fill="#000" stroke="#000" stroke-width="0.13">PC3</text>
<circle cx="595.74" cy="44.23" r="2.1" fill="#cde6f8"/>
<circle cx="613.10" cy="44.23" r="2.8" fill="#55b0ee"/>
<path d="M613.10,44.43 L613.10,42.18 M613.10,44.43 L615.24,43.73 M613.10,44.43 L614.42,46.25 M613.10,44.43 L611.78,46.25 M613.10,44.43 L610.96,43.73 " stroke="#1e1e1e" stroke-width="1.0" stroke-linecap="round" fill="none"/>
<circle cx="595.74" cy="52.95" r="3.3" fill="#45a6ec"/>
<path d="M595.74,53.16 L595.74,50.91 M595.74,53.16 L597.88,52.46 M595.74,53.16 L597.06,54.98 M595.74,53.16 L594.42,54.98 M595.74,53.16 L593.60,52.46 " stroke="#1e1e1e" stroke-width="1.0" stroke-linecap="round" fill="none"/>
<circle cx="604.42" cy="52.95" r="2.7" fill="#52adee"/>
<path d="M604.42,53.16 L604.42,50.91 M604.42,53.16 L606.56,52.46 M604.42,53.16 L605.74,54.98 M604.42,53.16 L603.10,54.98 M604.42,53.16 L602.28,52.46 " stroke="#1e1e1e" stroke-width="1.0" stroke-linecap="round" fill="none"/>
<circle cx="613.10" cy="52.95" r="3.1" fill="#48a8ec"/>
<path d="M613.10,53.16 L613.10,50.91 M613.10,53.16 L615.24,52.46 M613.10,53.16 L614.42,54.98 M613.10,53.16 L611.78,54.98 M613.10,53.16 L610.96,52.46 " stroke="#1e1e1e" stroke-width="1.0" stroke-linecap="round" fill="none"/>
<circle cx="613.10" cy="61.69" r="1.7" fill="#e3f1fc"/>
<circle cx="595.74" cy="70.41" r="2.6" fill="#8dcbf4"/>
<circle cx="604.42" cy="70.41" r="2.9" fill="#72bff3"/>
<circle cx="613.10" cy="70.41" r="2.3" fill="#bfe1f8"/>
<circle cx="595.74" cy="79.15" r="2.7" fill="#8ecbf4"/>
<circle cx="604.42" cy="79.15" r="2.3" fill="#b8def8"/>
<circle cx="613.10" cy="79.15" r="2.2" fill="#bfe1f8"/>
<circle cx="604.42" cy="87.88" r="2.4" fill="#b5dcf7"/>
<circle cx="613.10" cy="87.88" r="2.3" fill="#b5dcf7"/>
<circle cx="604.42" cy="96.60" r="1.6" fill="#dcedfb"/>
<circle cx="613.10" cy="96.60" r="2.6" fill="#8ecbf4"/>
<circle cx="595.74" cy="105.34" r="1.7" fill="#dcedfb"/>
<circle cx="613.10" cy="105.34" r="2.5" fill="#9ed2f6"/>
<circle cx="595.74" cy="114.06" r="2.7" fill="#95cef5"/>
<circle cx="604.42" cy="114.06" r="1.3" fill="#e3f1fc"/>
<circle cx="613.10" cy="114.06" r="3.0" fill="#55b0ee"/>
<path d="M613.10,114.27 L613.10,112.02 M613.10,114.27 L615.24,113.57 M613.10,114.27 L614.42,116.09 M613.10,114.27 L611.78,116.09 M613.10,114.27 L610.96,113.57 " stroke="#1e1e1e" stroke-width="1.0" stroke-linecap="round" fill="none"/>
<circle cx="595.74" cy="122.80" r="3.2" fill="#7ec4f3"/>
<circle cx="613.10" cy="122.80" r="1.6" fill="#dcedfb"/>
<circle cx="595.74" cy="131.53" r="1.7" fill="#dcedfb"/>
<circle cx="604.42" cy="131.53" r="1.8" fill="#dcedfb"/>
<circle cx="613.10" cy="131.53" r="2.1" fill="#b5dcf7"/>
<circle cx="595.74" cy="140.25" r="2.0" fill="#b5dcf7"/>
<circle cx="604.42" cy="140.25" r="2.3" fill="#a5d5f6"/>
<circle cx="613.10" cy="140.25" r="2.2" fill="#abd8f7"/>
<circle cx="604.42" cy="148.99" r="1.6" fill="#dcedfb"/>
<circle cx="613.10" cy="148.99" r="1.8" fill="#dcedfb"/>
<line x1="29.20" y1="305.80" x2="237.20" y2="305.80" stroke="#ebebeb" stroke-width="0.6"/>
<line x1="29.20" y1="298.48" x2="237.20" y2="298.48" stroke="#ebebeb" stroke-width="0.6"/>
<line x1="29.20" y1="291.16" x2="237.20" y2="291.16" stroke="#ebebeb" stroke-width="0.6"/>
<line x1="29.20" y1="283.83" x2="237.20" y2="283.83" stroke="#ebebeb" stroke-width="0.6"/>
<line x1="29.20" y1="276.51" x2="237.20" y2="276.51" stroke="#ebebeb" stroke-width="0.6"/>
<line x1="29.20" y1="269.19" x2="237.20" y2="269.19" stroke="#ebebeb" stroke-width="0.6"/>
<line x1="29.20" y1="261.87" x2="237.20" y2="261.87" stroke="#ebebeb" stroke-width="0.6"/>
<line x1="29.20" y1="254.55" x2="237.20" y2="254.55" stroke="#ebebeb" stroke-width="0.6"/>
<line x1="29.20" y1="247.22" x2="237.20" y2="247.22" stroke="#ebebeb" stroke-width="0.6"/>
<line x1="29.20" y1="239.90" x2="237.20" y2="239.90" stroke="#ebebeb" stroke-width="0.6"/>
<line x1="29.20" y1="232.58" x2="237.20" y2="232.58" stroke="#ebebeb" stroke-width="0.6"/>
<line x1="29.20" y1="225.26" x2="237.20" y2="225.26" stroke="#ebebeb" stroke-width="0.6"/>
<line x1="29.20" y1="217.94" x2="237.20" y2="217.94" stroke="#ebebeb" stroke-width="0.6"/>
<line x1="29.20" y1="210.61" x2="237.20" y2="210.61" stroke="#ebebeb" stroke-width="0.6"/>
<line x1="29.20" y1="203.29" x2="237.20" y2="203.29" stroke="#ebebeb" stroke-width="0.6"/>
<line x1="29.20" y1="195.97" x2="237.20" y2="195.97" stroke="#ebebeb" stroke-width="0.6"/>
<line x1="29.20" y1="188.65" x2="237.20" y2="188.65" stroke="#ebebeb" stroke-width="0.6"/>
<line x1="29.20" y1="181.33" x2="237.20" y2="181.33" stroke="#ebebeb" stroke-width="0.6"/>
<line x1="29.20" y1="174.00" x2="237.20" y2="174.00" stroke="#ebebeb" stroke-width="0.6"/>
<line x1="38.60" y1="171.00" x2="38.60" y2="310.00" stroke="#ebebeb" stroke-width="0.6"/>
<line x1="51.28" y1="171.00" x2="51.28" y2="310.00" stroke="#ebebeb" stroke-width="0.6"/>
<line x1="63.96" y1="171.00" x2="63.96" y2="310.00" stroke="#ebebeb" stroke-width="0.6"/>
<line x1="76.64" y1="171.00" x2="76.64" y2="310.00" stroke="#ebebeb" stroke-width="0.6"/>
<line x1="89.32" y1="171.00" x2="89.32" y2="310.00" stroke="#ebebeb" stroke-width="0.6"/>
<line x1="102.00" y1="171.00" x2="102.00" y2="310.00" stroke="#ebebeb" stroke-width="0.6"/>
<line x1="114.68" y1="171.00" x2="114.68" y2="310.00" stroke="#ebebeb" stroke-width="0.6"/>
<line x1="127.36" y1="171.00" x2="127.36" y2="310.00" stroke="#ebebeb" stroke-width="0.6"/>
<line x1="140.04" y1="171.00" x2="140.04" y2="310.00" stroke="#ebebeb" stroke-width="0.6"/>
<line x1="152.72" y1="171.00" x2="152.72" y2="310.00" stroke="#ebebeb" stroke-width="0.6"/>
<line x1="165.40" y1="171.00" x2="165.40" y2="310.00" stroke="#ebebeb" stroke-width="0.6"/>
<line x1="178.08" y1="171.00" x2="178.08" y2="310.00" stroke="#ebebeb" stroke-width="0.6"/>
<line x1="190.76" y1="171.00" x2="190.76" y2="310.00" stroke="#ebebeb" stroke-width="0.6"/>
<line x1="203.44" y1="171.00" x2="203.44" y2="310.00" stroke="#ebebeb" stroke-width="0.6"/>
<line x1="216.12" y1="171.00" x2="216.12" y2="310.00" stroke="#ebebeb" stroke-width="0.6"/>
<line x1="228.80" y1="171.00" x2="228.80" y2="310.00" stroke="#ebebeb" stroke-width="0.6"/>
<text transform="translate(26.20 307.60)" font-size="5.00" text-anchor="end" fill="#4d4d4d">0.00</text>
<text transform="translate(26.20 300.28)" font-size="5.00" text-anchor="end" fill="#4d4d4d">0.02</text>
<text transform="translate(26.20 292.96)" font-size="5.00" text-anchor="end" fill="#4d4d4d">0.04</text>
<text transform="translate(26.20 285.63)" font-size="5.00" text-anchor="end" fill="#4d4d4d">0.06</text>
<text transform="translate(26.20 278.31)" font-size="5.00" text-anchor="end" fill="#4d4d4d">0.08</text>
<text transform="translate(26.20 270.99)" font-size="5.00" text-anchor="end" fill="#4d4d4d">0.10</text>
<text transform="translate(26.20 263.67)" font-size="5.00" text-anchor="end" fill="#4d4d4d">0.12</text>
<text transform="translate(26.20 256.35)" font-size="5.00" text-anchor="end" fill="#4d4d4d">0.14</text>
<text transform="translate(26.20 249.02)" font-size="5.00" text-anchor="end" fill="#4d4d4d">0.16</text>
<text transform="translate(26.20 241.70)" font-size="5.00" text-anchor="end" fill="#4d4d4d">0.18</text>
<text transform="translate(26.20 234.38)" font-size="5.00" text-anchor="end" fill="#4d4d4d">0.20</text>
<text transform="translate(26.20 227.06)" font-size="5.00" text-anchor="end" fill="#4d4d4d">0.22</text>
<text transform="translate(26.20 219.74)" font-size="5.00" text-anchor="end" fill="#4d4d4d">0.24</text>
<text transform="translate(26.20 212.41)" font-size="5.00" text-anchor="end" fill="#4d4d4d">0.26</text>
<text transform="translate(26.20 205.09)" font-size="5.00" text-anchor="end" fill="#4d4d4d">0.28</text>
<text transform="translate(26.20 197.77)" font-size="5.00" text-anchor="end" fill="#4d4d4d">0.30</text>
<text transform="translate(26.20 190.45)" font-size="5.00" text-anchor="end" fill="#4d4d4d">0.32</text>
<text transform="translate(26.20 183.13)" font-size="5.00" text-anchor="end" fill="#4d4d4d">0.34</text>
<text transform="translate(26.20 175.80)" font-size="5.00" text-anchor="end" fill="#4d4d4d">0.36</text>
<text transform="translate(38.60 319.40)" font-size="5.30" text-anchor="middle" fill="#4d4d4d">1</text>
<text transform="translate(51.28 319.40)" font-size="5.30" text-anchor="middle" fill="#4d4d4d">2</text>
<text transform="translate(63.96 319.40)" font-size="5.30" text-anchor="middle" fill="#4d4d4d">3</text>
<text transform="translate(76.64 319.40)" font-size="5.30" text-anchor="middle" fill="#4d4d4d">4</text>
<text transform="translate(89.32 319.40)" font-size="5.30" text-anchor="middle" fill="#4d4d4d">5</text>
<text transform="translate(102.00 319.40)" font-size="5.30" text-anchor="middle" fill="#4d4d4d">6</text>
<text transform="translate(114.68 319.40)" font-size="5.30" text-anchor="middle" fill="#4d4d4d">7</text>
<text transform="translate(127.36 319.40)" font-size="5.30" text-anchor="middle" fill="#4d4d4d">8</text>
<text transform="translate(140.04 319.40)" font-size="5.30" text-anchor="middle" fill="#4d4d4d">9</text>
<text transform="translate(152.72 319.40)" font-size="5.30" text-anchor="middle" fill="#4d4d4d">10</text>
<text transform="translate(165.40 319.40)" font-size="5.30" text-anchor="middle" fill="#4d4d4d">11</text>
<text transform="translate(178.08 319.40)" font-size="5.30" text-anchor="middle" fill="#4d4d4d">12</text>
<text transform="translate(190.76 319.40)" font-size="5.30" text-anchor="middle" fill="#4d4d4d">13</text>
<text transform="translate(203.44 319.40)" font-size="5.30" text-anchor="middle" fill="#4d4d4d">14</text>
<text transform="translate(216.12 319.40)" font-size="5.30" text-anchor="middle" fill="#4d4d4d">15</text>
<text transform="translate(228.80 319.40)" font-size="5.30" text-anchor="middle" fill="#4d4d4d">16</text>
<text transform="translate(133.60 327.20)" font-size="6.00" text-anchor="middle" fill="#000" stroke="#000" stroke-width="0.05">No. samples</text>
<text transform="translate(13.60 240.90) rotate(-90)" font-size="5.30" text-anchor="middle" fill="#000" stroke="#000" stroke-width="0.05">FAVA</text>
<line x1="29.30" y1="274.50" x2="237.20" y2="274.50" stroke="#3a3a3a" stroke-width="0.75" stroke-dasharray="0.8 1.36"/>
<circle cx="38.60" cy="305.80" r="2.45" fill="#ffffff" stroke="#7cc63e" stroke-width="0.8"/>
<circle cx="51.28" cy="302.60" r="2.6" fill="#137a66" stroke="#2b2b2b" stroke-width="0.4"/>
<circle cx="51.28" cy="176.50" r="2.6" fill="#7a2860" stroke="#2b2b2b" stroke-width="0.4"/>
<circle cx="63.96" cy="299.10" r="2.6" fill="#f37a45" stroke="#2b2b2b" stroke-width="0.4"/>
<circle cx="63.96" cy="266.00" r="2.6" fill="#e1f0fc" stroke="#2b2b2b" stroke-width="0.4"/>
<circle cx="76.64" cy="241.80" r="2.6" fill="#1380d4" stroke="#2b2b2b" stroke-width="0.4"/>
<circle cx="89.32" cy="287.10" r="2.6" fill="#6c6cb4" stroke="#2b2b2b" stroke-width="0.4"/>
<circle cx="89.32" cy="295.70" r="2.6" fill="#555555" stroke="#2b2b2b" stroke-width="0.4"/>
<circle cx="102.00" cy="262.60" r="2.6" fill="#22b5a2" stroke="#2b2b2b" stroke-width="0.4"/>
<circle cx="152.72" cy="288.20" r="2.6" fill="#7cc3f4" stroke="#2b2b2b" stroke-width="0.4"/>
<circle cx="216.12" cy="287.40" r="2.6" fill="#cc6eac" stroke="#2b2b2b" stroke-width="0.4"/>
<circle cx="228.80" cy="287.60" r="2.6" fill="#4a720a" stroke="#2b2b2b" stroke-width="0.4"/>
<line x1="370.20" y1="173.30" x2="370.20" y2="314.30" stroke="#8a8a8a" stroke-width="0.7"/>
<line x1="367.90" y1="173.30" x2="370.20" y2="173.30" stroke="#8a8a8a" stroke-width="0.7"/>
<text transform="translate(363.70 174.20) rotate(-90)" font-size="6.30" text-anchor="middle" fill="#1a1a1a" stroke="#1a1a1a" stroke-width="0.05">1.0</text>
<line x1="367.90" y1="208.55" x2="370.20" y2="208.55" stroke="#8a8a8a" stroke-width="0.7"/>
<text transform="translate(363.70 209.45) rotate(-90)" font-size="6.30" text-anchor="middle" fill="#1a1a1a" stroke="#1a1a1a" stroke-width="0.05">0.5</text>
<line x1="367.90" y1="243.80" x2="370.20" y2="243.80" stroke="#8a8a8a" stroke-width="0.7"/>
<text transform="translate(363.70 244.70) rotate(-90)" font-size="6.30" text-anchor="middle" fill="#1a1a1a" stroke="#1a1a1a" stroke-width="0.05">0.0</text>
<line x1="367.90" y1="279.05" x2="370.20" y2="279.05" stroke="#8a8a8a" stroke-width="0.7"/>
<text transform="translate(363.70 279.95) rotate(-90)" font-size="6.30" text-anchor="middle" fill="#1a1a1a" stroke="#1a1a1a" stroke-width="0.05">&#8722;0.5</text>
<line x1="367.90" y1="314.30" x2="370.20" y2="314.30" stroke="#8a8a8a" stroke-width="0.7"/>
<text transform="translate(363.70 315.20) rotate(-90)" font-size="6.30" text-anchor="middle" fill="#1a1a1a" stroke="#1a1a1a" stroke-width="0.05">&#8722;1.0</text>
<text transform="translate(350.60 240.80) rotate(-90)" font-size="7.50" text-anchor="middle" fill="#000" stroke="#000" stroke-width="0.05">Spec</text>
<path d="M397.46,173.40 C397.46,175.92 397.32,185.57 397.46,188.50 C397.60,191.43 397.99,190.08 398.30,191.00 C398.61,191.92 398.93,192.83 399.30,194.00 C399.67,195.17 400.19,196.58 400.50,198.00 C400.81,199.42 401.12,201.08 401.15,202.50 C401.18,203.92 400.86,205.25 400.70,206.50 C400.54,207.75 400.23,208.83 400.20,210.00 C400.17,211.17 400.25,212.32 400.50,213.50 C400.75,214.68 401.30,215.82 401.70,217.10 C402.10,218.38 402.37,219.47 402.90,221.20 C403.43,222.93 404.45,225.53 404.90,227.50 C405.35,229.47 405.25,231.17 405.60,233.00 C405.95,234.83 406.38,236.67 407.00,238.50 C407.62,240.33 408.82,242.52 409.30,244.00 C409.78,245.48 410.13,246.03 409.90,247.40 C409.67,248.77 408.58,250.48 407.90,252.20 C407.22,253.92 406.43,255.87 405.80,257.70 C405.17,259.53 404.55,261.65 404.10,263.20 C403.65,264.75 403.50,265.35 403.10,267.00 C402.70,268.65 402.20,270.73 401.70,273.10 C401.20,275.47 400.57,278.52 400.10,281.20 C399.63,283.88 399.25,287.07 398.90,289.20 C398.55,291.33 398.24,289.82 398.00,294.00 C397.76,298.18 397.55,310.92 397.46,314.30 L397.34,314.30 C397.25,310.92 397.04,298.18 396.80,294.00 C396.56,289.82 396.25,291.33 395.90,289.20 C395.55,287.07 395.17,283.88 394.70,281.20 C394.23,278.52 393.60,275.47 393.10,273.10 C392.60,270.73 392.10,268.65 391.70,267.00 C391.30,265.35 391.15,264.75 390.70,263.20 C390.25,261.65 389.63,259.53 389.00,257.70 C388.37,255.87 387.58,253.92 386.90,252.20 C386.22,250.48 385.13,248.77 384.90,247.40 C384.67,246.03 385.02,245.48 385.50,244.00 C385.98,242.52 387.18,240.33 387.80,238.50 C388.42,236.67 388.85,234.83 389.20,233.00 C389.55,231.17 389.45,229.47 389.90,227.50 C390.35,225.53 391.37,222.93 391.90,221.20 C392.43,219.47 392.70,218.38 393.10,217.10 C393.50,215.82 394.05,214.68 394.30,213.50 C394.55,212.32 394.63,211.17 394.60,210.00 C394.57,208.83 394.26,207.75 394.10,206.50 C393.94,205.25 393.62,203.92 393.65,202.50 C393.68,201.08 393.99,199.42 394.30,198.00 C394.61,196.58 395.13,195.17 395.50,194.00 C395.87,192.83 396.19,191.92 396.50,191.00 C396.81,190.08 397.20,191.43 397.34,188.50 C397.48,185.57 397.34,175.92 397.34,173.40 Z" fill="#b2d8f3" stroke="#9aa3ab" stroke-opacity="0.5" stroke-width="0.4"/>
<path d="M431.66,173.70 C431.66,178.25 431.54,195.87 431.66,201.00 C431.78,206.13 432.18,203.22 432.40,204.50 C432.62,205.78 432.80,207.37 433.00,208.70 C433.20,210.03 433.42,211.35 433.60,212.50 C433.78,213.65 433.83,214.40 434.10,215.60 C434.37,216.80 434.65,218.33 435.20,219.70 C435.75,221.07 436.55,222.42 437.40,223.80 C438.25,225.18 439.50,226.62 440.30,228.00 C441.10,229.38 441.67,230.73 442.20,232.10 C442.73,233.47 443.22,234.88 443.50,236.20 C443.78,237.52 443.82,238.55 443.90,240.00 C443.98,241.45 444.22,242.95 444.00,244.90 C443.78,246.85 443.30,249.65 442.60,251.70 C441.90,253.75 440.67,255.37 439.80,257.20 C438.93,259.03 438.00,260.87 437.40,262.70 C436.80,264.53 436.48,266.37 436.20,268.20 C435.92,270.03 435.93,271.87 435.70,273.70 C435.47,275.53 435.10,277.18 434.80,279.20 C434.50,281.22 434.17,283.73 433.90,285.80 C433.63,287.87 433.42,289.67 433.20,291.60 C432.98,293.53 432.74,295.48 432.60,297.40 C432.46,299.32 432.51,300.25 432.35,303.10 C432.19,305.95 431.78,312.60 431.66,314.50 L431.54,314.50 C431.43,312.60 431.01,305.95 430.85,303.10 C430.69,300.25 430.74,299.32 430.60,297.40 C430.46,295.48 430.22,293.53 430.00,291.60 C429.78,289.67 429.57,287.87 429.30,285.80 C429.03,283.73 428.70,281.22 428.40,279.20 C428.10,277.18 427.73,275.53 427.50,273.70 C427.27,271.87 427.28,270.03 427.00,268.20 C426.72,266.37 426.40,264.53 425.80,262.70 C425.20,260.87 424.27,259.03 423.40,257.20 C422.53,255.37 421.30,253.75 420.60,251.70 C419.90,249.65 419.42,246.85 419.20,244.90 C418.98,242.95 419.22,241.45 419.30,240.00 C419.38,238.55 419.42,237.52 419.70,236.20 C419.98,234.88 420.47,233.47 421.00,232.10 C421.53,230.73 422.10,229.38 422.90,228.00 C423.70,226.62 424.95,225.18 425.80,223.80 C426.65,222.42 427.45,221.07 428.00,219.70 C428.55,218.33 428.83,216.80 429.10,215.60 C429.37,214.40 429.42,213.65 429.60,212.50 C429.78,211.35 430.00,210.03 430.20,208.70 C430.40,207.37 430.58,205.78 430.80,204.50 C431.02,203.22 431.42,206.13 431.54,201.00 C431.66,195.87 431.54,178.25 431.54,173.70 Z" fill="#e7f3fd" stroke="#9aa3ab" stroke-opacity="0.5" stroke-width="0.4"/>
<path d="M465.96,173.70 C465.96,177.00 465.84,189.70 465.96,193.50 C466.08,197.30 466.46,195.58 466.70,196.50 C466.94,197.42 467.12,197.93 467.40,199.00 C467.68,200.07 468.05,201.57 468.40,202.90 C468.75,204.23 469.02,205.40 469.50,207.00 C469.98,208.60 470.75,210.67 471.30,212.50 C471.85,214.33 472.37,216.17 472.80,218.00 C473.23,219.83 473.62,221.50 473.90,223.50 C474.18,225.50 474.28,228.10 474.50,230.00 C474.72,231.90 475.03,232.95 475.20,234.90 C475.37,236.85 475.47,239.42 475.50,241.70 C475.53,243.98 475.52,246.30 475.40,248.60 C475.28,250.90 475.17,253.43 474.80,255.50 C474.43,257.57 473.88,259.17 473.20,261.00 C472.52,262.83 471.43,264.90 470.70,266.50 C469.97,268.10 469.28,269.52 468.80,270.60 C468.32,271.68 468.03,272.12 467.80,273.00 C467.57,273.88 467.53,274.45 467.40,275.90 C467.27,277.35 467.12,279.02 467.00,281.70 C466.88,284.38 466.78,286.63 466.70,292.00 C466.62,297.37 466.53,310.25 466.50,313.90 L465.30,313.90 C465.27,310.25 465.18,297.37 465.10,292.00 C465.02,286.63 464.92,284.38 464.80,281.70 C464.68,279.02 464.53,277.35 464.40,275.90 C464.27,274.45 464.23,273.88 464.00,273.00 C463.77,272.12 463.48,271.68 463.00,270.60 C462.52,269.52 461.83,268.10 461.10,266.50 C460.37,264.90 459.28,262.83 458.60,261.00 C457.92,259.17 457.37,257.57 457.00,255.50 C456.63,253.43 456.52,250.90 456.40,248.60 C456.28,246.30 456.27,243.98 456.30,241.70 C456.33,239.42 456.43,236.85 456.60,234.90 C456.77,232.95 457.08,231.90 457.30,230.00 C457.52,228.10 457.62,225.50 457.90,223.50 C458.18,221.50 458.57,219.83 459.00,218.00 C459.43,216.17 459.95,214.33 460.50,212.50 C461.05,210.67 461.82,208.60 462.30,207.00 C462.78,205.40 463.05,204.23 463.40,202.90 C463.75,201.57 464.12,200.07 464.40,199.00 C464.68,197.93 464.86,197.42 465.10,196.50 C465.34,195.58 465.72,197.30 465.84,193.50 C465.96,189.70 465.84,177.00 465.84,173.70 Z" fill="#b3dcd2" stroke="#9aa3ab" stroke-opacity="0.5" stroke-width="0.4"/>
<path d="M500.36,173.40 C500.47,173.98 500.74,175.18 501.00,176.90 C501.26,178.62 501.60,181.42 501.90,183.70 C502.20,185.98 502.42,188.30 502.80,190.60 C503.18,192.90 503.75,195.22 504.20,197.50 C504.65,199.78 505.12,202.02 505.50,204.30 C505.88,206.58 506.27,209.42 506.50,211.20 C506.73,212.98 506.80,213.55 506.90,215.00 C507.00,216.45 507.05,217.95 507.10,219.90 C507.15,221.85 507.19,224.42 507.20,226.70 C507.21,228.98 507.10,231.30 507.15,233.60 C507.20,235.90 507.43,238.22 507.50,240.50 C507.57,242.78 507.62,245.38 507.60,247.30 C507.58,249.22 507.55,250.55 507.40,252.00 C507.25,253.45 506.97,254.67 506.70,256.00 C506.43,257.33 506.13,258.50 505.80,260.00 C505.47,261.50 505.12,262.62 504.70,265.00 C504.28,267.38 503.77,271.15 503.30,274.30 C502.83,277.45 502.23,280.70 501.90,283.90 C501.57,287.10 501.45,290.28 501.30,293.50 C501.15,296.72 501.16,299.95 501.00,303.20 C500.84,306.45 500.47,311.37 500.36,313.00 L500.24,313.00 C500.13,311.37 499.76,306.45 499.60,303.20 C499.44,299.95 499.45,296.72 499.30,293.50 C499.15,290.28 499.03,287.10 498.70,283.90 C498.37,280.70 497.77,277.45 497.30,274.30 C496.83,271.15 496.32,267.38 495.90,265.00 C495.48,262.62 495.13,261.50 494.80,260.00 C494.47,258.50 494.17,257.33 493.90,256.00 C493.63,254.67 493.35,253.45 493.20,252.00 C493.05,250.55 493.02,249.22 493.00,247.30 C492.98,245.38 493.03,242.78 493.10,240.50 C493.18,238.22 493.40,235.90 493.45,233.60 C493.50,231.30 493.39,228.98 493.40,226.70 C493.41,224.42 493.45,221.85 493.50,219.90 C493.55,217.95 493.60,216.45 493.70,215.00 C493.80,213.55 493.87,212.98 494.10,211.20 C494.33,209.42 494.72,206.58 495.10,204.30 C495.48,202.02 495.95,199.78 496.40,197.50 C496.85,195.22 497.42,192.90 497.80,190.60 C498.18,188.30 498.40,185.98 498.70,183.70 C499.00,181.42 499.34,178.62 499.60,176.90 C499.86,175.18 500.13,173.98 500.24,173.40 Z" fill="#c2ece4" stroke="#9aa3ab" stroke-opacity="0.5" stroke-width="0.4"/>
<path d="M534.46,173.40 C534.46,175.33 534.37,182.57 534.46,185.00 C534.55,187.43 534.83,187.00 535.00,188.00 C535.17,189.00 535.30,189.88 535.50,191.00 C535.70,192.12 535.93,193.17 536.20,194.70 C536.47,196.23 536.87,198.48 537.10,200.20 C537.33,201.92 537.45,203.05 537.60,205.00 C537.75,206.95 537.88,209.62 538.00,211.90 C538.12,214.18 538.18,216.42 538.30,218.70 C538.42,220.98 538.53,223.72 538.70,225.60 C538.87,227.48 539.10,228.85 539.30,230.00 C539.50,231.15 539.62,231.37 539.90,232.50 C540.18,233.63 540.68,235.67 541.00,236.80 C541.32,237.93 541.47,238.15 541.80,239.30 C542.13,240.45 542.66,242.05 543.00,243.70 C543.34,245.35 543.80,247.37 543.85,249.20 C543.90,251.03 543.59,252.65 543.30,254.70 C543.01,256.75 542.52,259.22 542.10,261.50 C541.68,263.78 541.13,266.35 540.80,268.40 C540.47,270.45 540.42,272.32 540.10,273.80 C539.78,275.28 539.25,275.48 538.90,277.30 C538.55,279.12 538.30,282.25 538.00,284.70 C537.70,287.15 537.37,289.57 537.10,292.00 C536.83,294.43 536.65,296.87 536.40,299.30 C536.15,301.73 535.92,304.15 535.60,306.60 C535.28,309.05 534.65,312.77 534.46,314.00 L534.34,314.00 C534.15,312.77 533.52,309.05 533.20,306.60 C532.88,304.15 532.65,301.73 532.40,299.30 C532.15,296.87 531.97,294.43 531.70,292.00 C531.43,289.57 531.10,287.15 530.80,284.70 C530.50,282.25 530.25,279.12 529.90,277.30 C529.55,275.48 529.02,275.28 528.70,273.80 C528.38,272.32 528.33,270.45 528.00,268.40 C527.67,266.35 527.12,263.78 526.70,261.50 C526.28,259.22 525.79,256.75 525.50,254.70 C525.21,252.65 524.90,251.03 524.95,249.20 C525.00,247.37 525.46,245.35 525.80,243.70 C526.14,242.05 526.67,240.45 527.00,239.30 C527.33,238.15 527.48,237.93 527.80,236.80 C528.12,235.67 528.62,233.63 528.90,232.50 C529.18,231.37 529.30,231.15 529.50,230.00 C529.70,228.85 529.93,227.48 530.10,225.60 C530.27,223.72 530.38,220.98 530.50,218.70 C530.62,216.42 530.68,214.18 530.80,211.90 C530.92,209.62 531.05,206.95 531.20,205.00 C531.35,203.05 531.47,201.92 531.70,200.20 C531.93,198.48 532.33,196.23 532.60,194.70 C532.87,193.17 533.10,192.12 533.30,191.00 C533.50,189.88 533.63,189.00 533.80,188.00 C533.97,187.00 534.25,187.43 534.34,185.00 C534.43,182.57 534.34,175.33 534.34,173.40 Z" fill="#d6bdcc" stroke="#9aa3ab" stroke-opacity="0.5" stroke-width="0.4"/>
<path d="M568.76,173.50 C568.76,181.32 568.60,212.23 568.76,220.40 C568.92,228.57 569.26,221.23 569.70,222.50 C570.14,223.77 570.82,226.17 571.40,228.00 C571.98,229.83 572.57,231.50 573.20,233.50 C573.83,235.50 574.12,237.98 575.20,240.00 C576.28,242.02 578.32,243.53 579.70,245.60 C581.08,247.67 582.65,250.35 583.50,252.40 C584.35,254.45 584.90,256.07 584.80,257.90 C584.70,259.73 583.63,261.57 582.90,263.40 C582.17,265.23 581.15,267.55 580.40,268.90 C579.65,270.25 579.33,270.00 578.40,271.50 C577.47,273.00 575.97,275.75 574.80,277.90 C573.63,280.05 572.22,282.52 571.40,284.40 C570.58,286.28 570.25,287.43 569.90,289.20 C569.55,290.97 569.49,290.82 569.30,295.00 C569.11,299.18 568.85,311.08 568.76,314.30 L568.64,314.30 C568.55,311.08 568.29,299.18 568.10,295.00 C567.91,290.82 567.85,290.97 567.50,289.20 C567.15,287.43 566.82,286.28 566.00,284.40 C565.18,282.52 563.77,280.05 562.60,277.90 C561.43,275.75 559.93,273.00 559.00,271.50 C558.07,270.00 557.75,270.25 557.00,268.90 C556.25,267.55 555.23,265.23 554.50,263.40 C553.77,261.57 552.70,259.73 552.60,257.90 C552.50,256.07 553.05,254.45 553.90,252.40 C554.75,250.35 556.32,247.67 557.70,245.60 C559.08,243.53 561.12,242.02 562.20,240.00 C563.28,237.98 563.57,235.50 564.20,233.50 C564.83,231.50 565.42,229.83 566.00,228.00 C566.58,226.17 567.26,223.77 567.70,222.50 C568.14,221.23 568.48,228.57 568.64,220.40 C568.80,212.23 568.64,181.32 568.64,173.50 Z" fill="#edd1e3" stroke="#9aa3ab" stroke-opacity="0.5" stroke-width="0.4"/>
<path d="M602.96,173.50 C602.96,178.58 602.85,198.33 602.96,204.00 C603.07,209.67 603.39,206.33 603.60,207.50 C603.81,208.67 603.98,209.80 604.20,211.00 C604.42,212.20 604.63,213.40 604.90,214.70 C605.17,216.00 605.42,217.42 605.80,218.80 C606.18,220.18 606.62,221.62 607.20,223.00 C607.78,224.38 608.80,225.73 609.30,227.10 C609.80,228.47 609.95,229.88 610.20,231.20 C610.45,232.52 610.42,233.43 610.80,235.00 C611.18,236.57 611.58,238.53 612.50,240.60 C613.42,242.67 615.25,245.35 616.30,247.40 C617.35,249.45 618.25,251.52 618.80,252.90 C619.35,254.28 619.97,254.32 619.60,255.70 C619.23,257.08 617.83,259.30 616.60,261.20 C615.37,263.10 613.67,264.95 612.20,267.10 C610.73,269.25 608.98,271.75 607.80,274.10 C606.62,276.45 605.82,278.98 605.10,281.20 C604.38,283.42 603.86,281.97 603.50,287.40 C603.14,292.83 603.05,309.40 602.96,313.80 L602.84,313.80 C602.75,309.40 602.66,292.83 602.30,287.40 C601.94,281.97 601.42,283.42 600.70,281.20 C599.98,278.98 599.18,276.45 598.00,274.10 C596.82,271.75 595.07,269.25 593.60,267.10 C592.13,264.95 590.43,263.10 589.20,261.20 C587.97,259.30 586.57,257.08 586.20,255.70 C585.83,254.32 586.45,254.28 587.00,252.90 C587.55,251.52 588.45,249.45 589.50,247.40 C590.55,245.35 592.38,242.67 593.30,240.60 C594.22,238.53 594.62,236.57 595.00,235.00 C595.38,233.43 595.35,232.52 595.60,231.20 C595.85,229.88 596.00,228.47 596.50,227.10 C597.00,225.73 598.02,224.38 598.60,223.00 C599.18,221.62 599.62,220.18 600.00,218.80 C600.38,217.42 600.63,216.00 600.90,214.70 C601.17,213.40 601.38,212.20 601.60,211.00 C601.82,209.80 601.99,208.67 602.20,207.50 C602.41,206.33 602.73,209.67 602.84,204.00 C602.95,198.33 602.84,178.58 602.84,173.50 Z" fill="#f8e3ef" stroke="#9aa3ab" stroke-opacity="0.5" stroke-width="0.4"/>
<path d="M525.3,246.4 C526.2,248.2 527.8,251 530.0,254.5 C532.5,258.2 534.3,261.5 535.0,265 C535.6,268.5 535.5,272 535.5,276 L536.2,284.7 L536.8,292 C536.4,297 535.9,302 535.3,306.6 L534.4,314.2 L533.6,306.6 C533.0,302 532.4,297 531.9,292 C531.2,287 530.6,282 529.6,277.3 C528.6,272 527.2,265 526.0,259 C525.3,255 524.9,251 525.3,246.4 Z" fill="#7a2c62"/>
<path d="M553.5,253.1 C555,255.5 557.5,258.5 560.4,261.4 C562.5,263.6 564.5,266.5 565.8,270 C567.2,273.5 568.7,276 569.3,278 L569.8,284.4 L569.8,289.2 L569.0,300 L568.7,314 L568.3,300 L567.4,289.2 C566.4,286 564.5,282 562.5,277.9 C560.5,274 558.8,270.5 557.2,267 C555.5,263 553.8,259.5 553.2,256.5 Z" fill="#d077b2"/>
<path d="M586.8,251.8 C588,253.5 590.5,256 593,257.7 C595.5,259.3 597.5,261 599.2,263 C600.8,265.5 601.5,268 602.2,271 L603.5,274.1 L603.6,281.2 L603.0,287.4 L602.2,281.2 C601.3,278.5 599.8,276 597.9,274.1 C596,271.5 594.8,269 593.5,267.1 C591.8,264 590.2,261.5 588.8,258.5 C587.6,256 586.8,254 586.8,251.8 Z" fill="#e9a6d0"/>
<path d="M496.3,268 C497.2,272 498.0,277 498.7,281 C499.2,284 499.6,287 500.0,290 L500.7,313.2 L499.5,313.2 L499.0,291 C498.6,288 498.1,285 497.6,282 C497.0,278 496.5,273 496.3,268 Z" fill="#52bba6"/>
<text transform="translate(397.30 326.00)" font-size="6.30" text-anchor="middle" fill="#1a1a1a" stroke="#1a1a1a" stroke-width="0.05">Rainfall</text>
<text transform="translate(431.60 326.00)" font-size="6.30" text-anchor="middle" fill="#1a1a1a" stroke="#1a1a1a" stroke-width="0.05">Evapotrans.</text>
<text transform="translate(466.00 326.00)" font-size="6.30" text-anchor="middle" fill="#1a1a1a" stroke="#1a1a1a" stroke-width="0.05">Latitude</text>
<text transform="translate(499.90 326.00)" font-size="6.30" text-anchor="middle" fill="#1a1a1a" stroke="#1a1a1a" stroke-width="0.05">Longitude</text>
<text transform="translate(535.40 326.00)" font-size="6.30" text-anchor="middle" fill="#1a1a1a" stroke="#1a1a1a" stroke-width="0.05">Age</text>
<text transform="translate(569.90 326.00)" font-size="6.30" text-anchor="middle" fill="#1a1a1a" stroke="#1a1a1a" stroke-width="0.05">GC</text>
<text transform="translate(605.20 326.00)" font-size="6.30" text-anchor="middle" fill="#1a1a1a" stroke="#1a1a1a" stroke-width="0.05">Read length</text>
</svg>
</body></html>
